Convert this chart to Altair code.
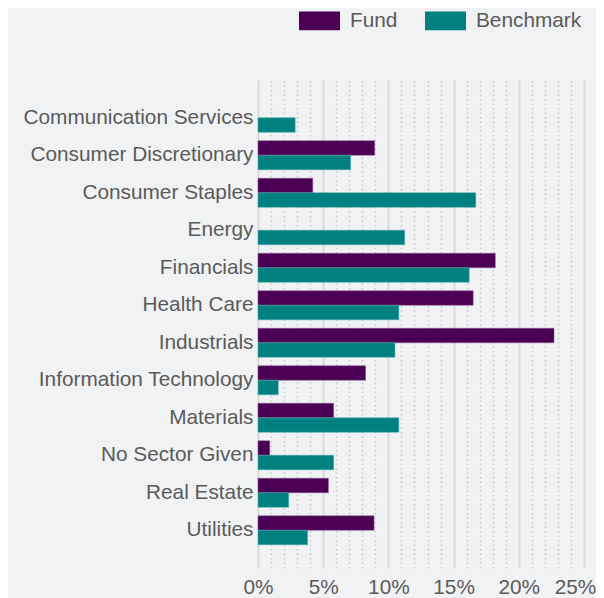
import altair as alt
import pandas as pd

sectors = [
    "Communication Services", "Consumer Discretionary", "Consumer Staples", "Energy",
    "Financials", "Health Care", "Industrials", "Information Technology",
    "Materials", "No Sector Given", "Real Estate", "Utilities",
]
fund = [0.0, 8.95, 4.2, 0.0, 18.2, 16.5, 22.7, 8.25, 5.8, 0.9, 5.4, 8.9]
benchmark = [2.85, 7.1, 16.7, 11.25, 16.2, 10.8, 10.5, 1.55, 10.8, 5.8, 2.35, 3.8]
series = ["Fund", "Benchmark"]
colors = ["#4b0055", "#008080"]
x_ticks = list(range(0, 26))

rows = []
for s, f, b in zip(sectors, fund, benchmark):
    rows.append({"sector": s, "series": "Fund", "value": f})
    rows.append({"sector": s, "series": "Benchmark", "value": b})
df = pd.DataFrame(rows)

font = "Liberation Sans"
txt = "#5a5a5a"
fs = 20.8

chart = alt.Chart(df).transform_filter("datum.value > 0").mark_bar(strokeWidth=1, strokeOpacity=0.5).encode(
    x=alt.X(
        "value:Q",
        scale=alt.Scale(domain=[0, 25], nice=False),
        axis=alt.Axis(
            values=x_ticks,
            title=None,
            ticks=False,
            domain=False,
            labelExpr="datum.value % 5 === 0 ? datum.value + '%' : ''",
            labelFontSize=fs,
            labelColor=txt,
            labelFont=font,
            labelPadding=9,
            labelFlush=False,
            labelOffset=alt.condition("datum.value === 25", alt.value(-9), alt.value(0)),
            grid=True,
            gridColor=alt.condition("datum.value % 5 === 0", alt.value("#d9d9d9"), alt.value("#c8c8c8")),
            gridWidth=alt.condition("datum.value % 5 === 0", alt.value(2), alt.value(1.5)),
            gridDash=alt.condition("datum.value % 5 === 0", alt.value([]), alt.value([1.5, 3])),
        ),
    ),
    y=alt.Y(
        "sector:N",
        sort=sectors,
        scale=alt.Scale(domain=sectors, paddingInner=0.227, paddingOuter=0.62),
        axis=alt.Axis(
            title=None,
            ticks=False,
            domain=False,
            labelFontSize=fs,
            labelColor=txt,
            labelFont=font,
            labelPadding=5,
            labelLimit=400,
        ),
    ),
    yOffset=alt.YOffset("series:N", sort=series, scale=alt.Scale(domain=series, paddingInner=0)),
    color=alt.Color(
        "series:N",
        scale=alt.Scale(domain=series, range=colors),
        legend=alt.Legend(
            title=None,
            orient="none",
            direction="horizontal",
            legendX=41,
            legendY=-80,
            symbolType="M-1,-0.46L1,-0.46L1,0.46L-1,0.46Z",
            symbolSize=1681,
            symbolStrokeWidth=0,
            symbolOpacity=1,
            labelFontSize=fs,
            labelFont=font,
            labelColor=txt,
            labelOffset=10,
            columnPadding=27,
        ),
    ),
    stroke=alt.Stroke("series:N", scale=alt.Scale(domain=series, range=["#8a5a90", "#4aa8a8"]), legend=None),
).properties(
    width=326,
    height=488,
    autosize=alt.AutoSizeParams(type="none"),
    padding={"left": 250, "top": 72, "right": 12, "bottom": 30},
    background="#f1f2f4",
).configure_view(stroke=None)

chart.save("out.html", embed_options={"renderer": "svg", "actions": False})
